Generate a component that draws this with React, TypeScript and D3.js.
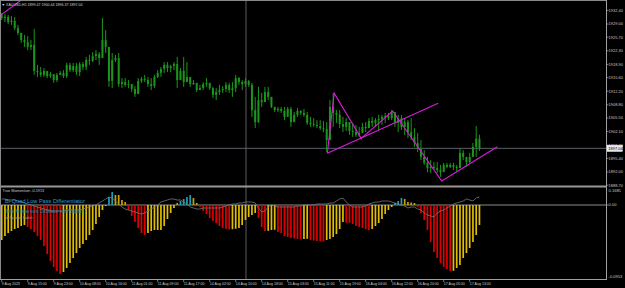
import React from 'react';
import * as d3 from 'd3';

const W = 625;
const H = 288;

// ---- price data (XAUUSD H1) ----
const firstOpen = 1930.4;
const highs = [
  1930.9, 1930.6, 1930.4, 1930.1, 1929.9, 1927.9, 1925.9, 1925.4, 1925.1, 1924.1,
  1926.9, 1917.9, 1917.4, 1917.1, 1916.1, 1916.1, 1915.1, 1915.9, 1916.4, 1916.6,
  1918.4, 1918.4, 1918.4, 1918.4, 1918.6, 1918.6, 1919.9, 1920.4, 1921.1, 1921.6,
  1921.1, 1929.6, 1926.6, 1921.6, 1920.9, 1920.4, 1920.9, 1914.6, 1914.6, 1914.1,
  1913.1, 1912.6, 1914.6, 1914.9, 1915.4, 1914.9, 1914.6, 1915.4, 1916.6, 1917.4,
  1918.6, 1918.6, 1917.9, 1918.6, 1919.9, 1917.1, 1919.9, 1918.6, 1914.6, 1914.1,
  1913.4, 1912.9, 1913.6, 1914.6, 1913.4, 1912.4, 1912.1, 1912.9, 1912.6, 1913.6,
  1913.4, 1913.6, 1915.4, 1914.9, 1914.1, 1914.6, 1914.1, 1913.4, 1909.9, 1912.4,
  1910.9, 1912.4, 1912.4, 1909.9, 1907.4, 1907.4, 1907.4, 1907.4, 1907.4, 1907.4,
  1906.1, 1907.1, 1906.6, 1906.9, 1906.1, 1904.9, 1904.6, 1904.1, 1904.1, 1903.9,
  1903.6, 1909.1, 1910.9, 1906.6, 1906.6, 1904.9, 1904.6, 1903.6, 1903.4, 1902.9,
  1902.4, 1903.4, 1903.6, 1904.6, 1904.9, 1904.6, 1905.4, 1905.4, 1905.9, 1905.9,
  1906.6, 1905.4, 1905.4, 1905.4, 1904.6, 1904.1, 1904.6, 1902.1, 1900.9, 1899.1,
  1896.6, 1894.9, 1894.1, 1893.6, 1893.6, 1892.9, 1893.4, 1893.4, 1893.4, 1893.4,
  1892.9, 1897.1, 1896.6, 1894.9, 1895.9, 1898.4, 1902.6, 1900.44,
];
const lows = [
  1929.1, 1928.6, 1928.1, 1927.9, 1926.6, 1925.4, 1923.4, 1922.4, 1921.6, 1921.6,
  1915.4, 1914.9, 1914.9, 1914.9, 1914.6, 1914.6, 1913.4, 1913.6, 1915.4, 1914.6,
  1914.6, 1916.1, 1916.1, 1915.4, 1915.1, 1916.6, 1916.6, 1917.9, 1918.6, 1919.1,
  1917.9, 1921.6, 1920.9, 1912.4, 1912.1, 1918.6, 1912.4, 1912.1, 1912.4, 1912.1,
  1911.1, 1909.9, 1910.9, 1913.4, 1913.6, 1912.4, 1911.6, 1912.1, 1914.6, 1914.9,
  1915.9, 1916.1, 1916.1, 1916.6, 1912.1, 1914.1, 1912.4, 1914.1, 1912.4, 1912.9,
  1911.1, 1911.6, 1911.6, 1912.4, 1911.6, 1909.6, 1909.1, 1910.4, 1910.9, 1911.1,
  1910.9, 1909.9, 1911.1, 1912.9, 1911.6, 1912.4, 1912.4, 1904.9, 1902.1, 1903.4,
  1907.4, 1909.1, 1909.1, 1907.1, 1906.1, 1906.1, 1905.9, 1904.1, 1905.9, 1902.4,
  1903.6, 1904.9, 1905.4, 1904.9, 1902.9, 1902.4, 1902.4, 1902.1, 1901.6, 1901.1,
  1896.1, 1899.1, 1902.4, 1903.4, 1902.1, 1901.1, 1901.4, 1900.4, 1899.9, 1899.9,
  1899.9, 1900.9, 1901.1, 1902.1, 1902.4, 1902.4, 1901.6, 1902.9, 1903.4, 1904.1,
  1904.1, 1902.4, 1901.1, 1901.6, 1900.4, 1899.6, 1899.1, 1897.4, 1896.1, 1894.1,
  1892.9, 1891.1, 1890.9, 1891.6, 1890.9, 1889.9, 1891.6, 1892.1, 1892.1, 1891.6,
  1891.1, 1892.4, 1894.1, 1892.4, 1893.4, 1895.9, 1894.9, 1896.37,
];
const closes = [
  1929.6, 1929.9, 1928.6, 1928.9, 1927.1, 1925.9, 1924.1, 1923.6, 1922.4, 1922.9,
  1916.4, 1916.1, 1915.4, 1916.4, 1915.1, 1915.6, 1914.1, 1915.4, 1915.9, 1915.1,
  1917.9, 1916.6, 1917.6, 1916.1, 1918.1, 1917.4, 1919.1, 1918.9, 1920.1, 1920.6,
  1919.6, 1924.1, 1922.4, 1913.9, 1919.1, 1919.6, 1913.1, 1913.6, 1912.9, 1913.1,
  1911.9, 1910.6, 1913.9, 1914.4, 1914.1, 1913.1, 1912.6, 1914.9, 1915.9, 1916.9,
  1917.9, 1917.1, 1917.6, 1918.1, 1914.1, 1916.4, 1913.6, 1914.9, 1913.1, 1913.4,
  1911.6, 1912.1, 1913.1, 1913.4, 1912.1, 1910.4, 1911.1, 1911.6, 1911.9, 1912.9,
  1911.6, 1912.1, 1914.6, 1913.6, 1913.1, 1913.9, 1912.9, 1906.6, 1903.6, 1909.1,
  1908.6, 1911.1, 1909.9, 1907.4, 1906.6, 1906.9, 1906.4, 1904.9, 1906.9, 1903.6,
  1905.4, 1906.4, 1905.9, 1905.4, 1903.4, 1903.1, 1902.9, 1902.6, 1902.1, 1901.9,
  1899.1, 1907.4, 1905.9, 1905.4, 1903.1, 1902.4, 1903.6, 1901.4, 1901.1, 1900.4,
  1900.9, 1902.4, 1902.1, 1903.9, 1903.4, 1904.1, 1904.4, 1904.9, 1905.1, 1904.6,
  1906.1, 1903.4, 1904.6, 1902.4, 1903.6, 1901.1, 1899.9, 1898.4, 1896.9, 1894.9,
  1893.4, 1892.1, 1892.4, 1892.1, 1891.6, 1891.1, 1892.9, 1892.4, 1892.9, 1892.4,
  1892.1, 1895.9, 1894.9, 1893.6, 1894.9, 1897.4, 1899.47, 1897.04,
];

// ---- indicator data ----
const histValues = [
  -0.035, -0.031, -0.028, -0.026, -0.024, -0.023, -0.021, -0.020, -0.022, -0.024,
  -0.027, -0.031, -0.035, -0.041, -0.049, -0.056, -0.062, -0.066, -0.069, -0.067,
  -0.063, -0.058, -0.053, -0.048, -0.043, -0.039, -0.035, -0.030, -0.025, -0.019,
  -0.012, -0.005, -0.001, 0.008, 0.013, 0.010, 0.010, 0.005, 0.003, -0.005,
  -0.011, -0.017, -0.023, -0.028, -0.030, -0.028, -0.026, -0.025, -0.025, -0.025,
  -0.021, -0.014, -0.008, -0.003, 0.002, 0.004, 0.006, 0.008, 0.010, 0.007,
  0.002, -0.002, -0.006, -0.009, -0.013, -0.016, -0.018, -0.021, -0.023, -0.024,
  -0.0245, -0.0242, -0.0238, -0.023, -0.020, -0.015, -0.012, -0.010, -0.008, -0.013,
  -0.022, -0.026, -0.0258, -0.025, -0.0248, -0.027, -0.028, -0.031, -0.032, -0.033,
  -0.0335, -0.034, -0.0345, -0.034, -0.0338, -0.035, -0.0355, -0.036, -0.0362, -0.0364,
  -0.035, -0.034, -0.032, -0.029, -0.024, -0.017, -0.0175, -0.018, -0.019, -0.021,
  -0.022, -0.023, -0.024, -0.025, -0.024, -0.021, -0.018, -0.014, -0.009, -0.005,
  -0.002, 0.002, 0.004, 0.007, 0.006, 0.003, 0.0025, 0.002, -0.002, -0.008,
  -0.015, -0.025, -0.037, -0.047, -0.053, -0.058, -0.062, -0.064, -0.066, -0.0658,
  -0.063, -0.060, -0.053, -0.048, -0.043, -0.037, -0.030, -0.020,
];
// colour state runs: r = falling below zero, y = rising below zero, c = rising above zero, g = falling above zero
const histStateRuns: [string, number][] = [
  ['y', 8], ['r', 11], ['y', 14], ['c', 2], ['g', 4], ['r', 6], ['y', 9], ['g', 1], ['c', 4], ['g', 2],
  ['r', 10], ['y', 8], ['r', 3], ['y', 3], ['r', 8], ['y', 2], ['r', 5], ['y', 6], ['r', 8], ['y', 7],
  ['c', 3], ['g', 4], ['r', 11], ['y', 9],
];
const signalValues = [
  0.006, 0.006, 0.005, 0.005, 0.005, 0.004, 0.003, 0.002, 0.001, 0.000,
  -0.001, -0.002, -0.003, -0.004, -0.005, -0.006, -0.006, -0.006, -0.006, -0.006,
  -0.005, -0.005, -0.005, -0.005, -0.005, -0.004, -0.003, -0.002, -0.001, 0.000,
  0.002, 0.004, 0.006, 0.008, 0.007, 0.004, 0.001, -0.002, -0.004, -0.005,
  -0.006, -0.007, -0.008, -0.009, -0.008, -0.006, -0.004, -0.002, 0.000, 0.003,
  0.004, 0.005, 0.006, 0.006, 0.005, 0.005, 0.003, 0.001, -0.002, -0.003,
  -0.004, -0.004, -0.003, -0.003, -0.003, -0.003, -0.003, -0.003, -0.002, -0.001,
  0.000, 0.001, 0.001, 0.002, 0.002, 0.003, 0.003, 0.003, 0.002, -0.003,
  -0.007, -0.006, -0.002, 0.000, -0.001, -0.002, -0.002, -0.002, -0.002, -0.002,
  -0.002, -0.001, -0.001, 0.000, 0.000, 0.000, 0.000, 0.001, 0.001, 0.001,
  0.001, 0.002, 0.002, 0.004, 0.006, 0.007, 0.003, 0.000, -0.002, -0.002,
  -0.002, -0.002, -0.001, 0.001, 0.002, 0.003, 0.003, 0.004, 0.004, 0.004,
  0.003, 0.002, 0.001, 0.000, -0.001, -0.003, -0.002, -0.002, -0.004, -0.005,
  -0.008, -0.010, -0.011, -0.012, -0.008, -0.006, -0.005, -0.003, -0.001, 0.001,
  0.002, 0.003, 0.004, 0.006, 0.005, 0.004, 0.007, 0.008,
];

// ---- drawn objects (bar index, price) ----
const zigIdx = [100.2, 102.3, 110.6, 120.3, 135.4, 152.5];
const zigPrice = [1895.8, 1910.8, 1899.55, 1906.38, 1888.88, 1897.45];
const trendIdx = [100.2, 134.3];
const trendPrice = [1895.8, 1908.3];
const cornerIdx = [-0.2, 6];
const cornerPrice = [1930.4, 1934.1];

// ---- axis labels ----
const priceTicks = [1932.4, 1929.0, 1925.7, 1922.3, 1918.9, 1915.6, 1912.2, 1908.8, 1905.5, 1902.1, 1898.7, 1895.4, 1892.0, 1888.7];
const bidPrice = 1897.04;
const dateLabels = [
  '9 Aug 2023', '9 Aug 15:00', '9 Aug 23:00', '10 Aug 08:00', '10 Aug 16:00', '11 Aug 01:00',
  '11 Aug 09:00', '11 Aug 17:00', '14 Aug 02:00', '14 Aug 10:00', '14 Aug 18:00', '15 Aug 03:00',
  '15 Aug 11:00', '15 Aug 19:00', '16 Aug 04:00', '16 Aug 12:00', '16 Aug 20:00', '17 Aug 05:00', '17 Aug 13:00',
];
const dateStep = 8;

const GREEN = '#1b961b';
const STATE_COLORS: Record<string, string> = { r: '#e00000', y: '#e2be00', c: '#1f9fb6', g: '#c9a200' };
const FONT = 'Liberation Sans, Arial, sans-serif';
const AXIS_TEXT = '#c8c8c8';

export default function App() {
  const AX = 606;
  const MAIN_BOTTOM = 185.5;
  const IND_TOP = 187.5;
  const IND_BOTTOM = 279;

  const x = d3.scaleLinear().domain([0, 147]).range([1.7, 479.45]);
  const y = d3.scaleLinear().domain([1888.7, 1932.4]).range([181.7, 6.9]);
  const yi = d3.scaleLinear().domain([-0.074, 0.019]).range([IND_BOTTOM, 186]);
  const labelShift = 3.5;

  const opens = closes.map((c, i) => (i === 0 ? firstOpen : closes[i - 1]));
  const histStates: string[] = histStateRuns.flatMap(([s, n]) => Array.from({ length: n }, () => s));

  const pathFrom = (idx: number[], vals: number[], ys: (v: number) => number) =>
    d3.line<number>().x((d) => x(d)).y((_, i) => ys(vals[i]))(idx) || '';

  const signalPath =
    d3
      .line<number>()
      .x((_, i) => x(i))
      .y((d) => yi(d))(signalValues) || '';

  return (
    <svg
      width={W}
      height={H}
      viewBox={`0 0 ${W} ${H}`}
      style={{ position: 'fixed', left: 0, top: 0, display: 'block', background: '#000' }}
    >
      <defs>
        <clipPath id="mainClip">
          <rect x={1} y={0.5} width={AX - 1} height={MAIN_BOTTOM - 0.5} />
        </clipPath>
        <clipPath id="indClip">
          <rect x={1} y={IND_TOP} width={AX - 1} height={IND_BOTTOM - IND_TOP} />
        </clipPath>
      </defs>
      <rect x={0} y={0} width={W} height={H} fill="#000" />

      {/* bid line */}
      <line x1={1} x2={AX} y1={y(bidPrice)} y2={y(bidPrice)} stroke="#59606a" strokeWidth={1} />
      {/* vertical line */}
      <line x1={246} x2={246} y1={0} y2={IND_BOTTOM} stroke="#5c5c5c" strokeWidth={1} />

      {/* candles */}
      <g clipPath="url(#mainClip)">
        {closes.map((c, i) => {
          const o = opens[i];
          const cx = x(i);
          const yt = y(Math.max(o, c));
          const yb = y(Math.min(o, c));
          return (
            <g key={i}>
              <line x1={cx} x2={cx} y1={y(highs[i])} y2={y(lows[i])} stroke={GREEN} strokeWidth={1} />
              <rect x={cx - 1} y={yt} width={2} height={Math.max(yb - yt, 0.8)} fill={GREEN} />
            </g>
          );
        })}
        <path d={pathFrom(zigIdx, zigPrice, y)} fill="none" stroke="#d81ed8" strokeWidth={1.1} />
        <path d={pathFrom(trendIdx, trendPrice, y)} fill="none" stroke="#d81ed8" strokeWidth={1.1} />
        <path d={pathFrom(cornerIdx, cornerPrice, y)} fill="none" stroke="#d81ed8" strokeWidth={1.1} />
      </g>

      {/* title */}
      <text x={1.5} y={6} fontFamily={FONT} fontSize={3.6} fill="#d0d0d0">
        ▼ XAUUSD,H1  1899.47 1900.44 1896.37 1897.04
      </text>

      {/* indicator */}
      <g clipPath="url(#indClip)">
        <line x1={1} x2={AX} y1={yi(0)} y2={yi(0)} stroke="#b0b0b0" strokeWidth={0.8} />
        {histValues.map((v, i) => {
          const y0 = yi(0);
          const y1 = yi(v);
          return (
            <rect
              key={i}
              x={x(i) - 0.85}
              y={Math.min(y0, y1)}
              width={1.7}
              height={Math.max(Math.abs(y1 - y0), 0.5)}
              fill={STATE_COLORS[histStates[i]] || '#e2be00'}
            />
          );
        })}
        <path d={signalPath} fill="none" stroke="#7a7a7a" strokeWidth={0.8} />
      </g>
      <text x={2.5} y={191.5} fontFamily={FONT} fontSize={3.8} fill="#c8c8c8">
        True Momentum -0.1913
      </text>
      <text x={5} y={202.6} fontFamily={FONT} fontSize={5.6} fill="#2a9fd0">
        Bi-Quad Low Pass Differentiator
      </text>
      <text x={5} y={212.6} fontFamily={FONT} fontSize={4.6} fill="#1c8aa6">
        True Momentum Oscillator with Signal
      </text>
      <text x={5} y={219} fontFamily={FONT} fontSize={3.4} fill="#9a9a9a">
        by Sabaaw Sadeh
      </text>

      {/* frames */}
      <rect x={0} y={MAIN_BOTTOM} width={AX + 1} height={2} fill="#979797" />
      <line x1={0.5} x2={AX} y1={0.5} y2={0.5} stroke="#8a8a8a" strokeWidth={1} />
      <line x1={0.5} x2={0.5} y1={0} y2={IND_BOTTOM} stroke="#8a8a8a" strokeWidth={1} />
      <line x1={AX + 0.5} x2={AX + 0.5} y1={0} y2={IND_BOTTOM + 0.5} stroke="#a0a0a0" strokeWidth={1} />
      <line x1={0} x2={AX + 1} y1={IND_BOTTOM + 0.5} y2={IND_BOTTOM + 0.5} stroke="#a0a0a0" strokeWidth={1} />

      {/* price axis */}
      {priceTicks.map((p) => (
        <g key={p}>
          <line x1={AX + 1} x2={AX + 2.5} y1={y(p) + labelShift} y2={y(p) + labelShift} stroke={AXIS_TEXT} strokeWidth={0.6} />
          <text x={608.6} y={y(p) + labelShift} dy="0.35em" fontFamily={FONT} fontSize={4} fill={AXIS_TEXT}>
            {p.toFixed(2)}
          </text>
        </g>
      ))}
      <rect x={607} y={y(bidPrice) - 3.2} width={15.5} height={6.4} fill="#e6e6e6" stroke="#ffffff" strokeWidth={0.4} />
      <text x={608.3} y={y(bidPrice)} dy="0.35em" fontFamily={FONT} fontSize={4} fill="#000">
        {bidPrice.toFixed(2)}
      </text>

      {/* indicator axis */}
      <text x={608.6} y={190.2} dy="0.35em" fontFamily={FONT} fontSize={4} fill={AXIS_TEXT}>0.1685</text>
      <line x1={AX + 1} x2={AX + 2.5} y1={yi(0)} y2={yi(0)} stroke={AXIS_TEXT} strokeWidth={0.6} />
      <text x={608.6} y={yi(0)} dy="0.35em" fontFamily={FONT} fontSize={4} fill={AXIS_TEXT}>0.00</text>
      <text x={608.6} y={276.8} dy="0.35em" fontFamily={FONT} fontSize={4} fill={AXIS_TEXT}>-0.0953</text>

      {/* date axis */}
      {dateLabels.map((t, k) => {
        const px = x(k * dateStep);
        return (
          <g key={t}>
            <line x1={px} x2={px} y1={IND_BOTTOM + 1} y2={IND_BOTTOM + 3} stroke={AXIS_TEXT} strokeWidth={0.6} />
            <text x={px} y={284.8} fontFamily={FONT} fontSize={3.6} fill={AXIS_TEXT}>
              {t}
            </text>
          </g>
        );
      })}
    </svg>
  );
}
